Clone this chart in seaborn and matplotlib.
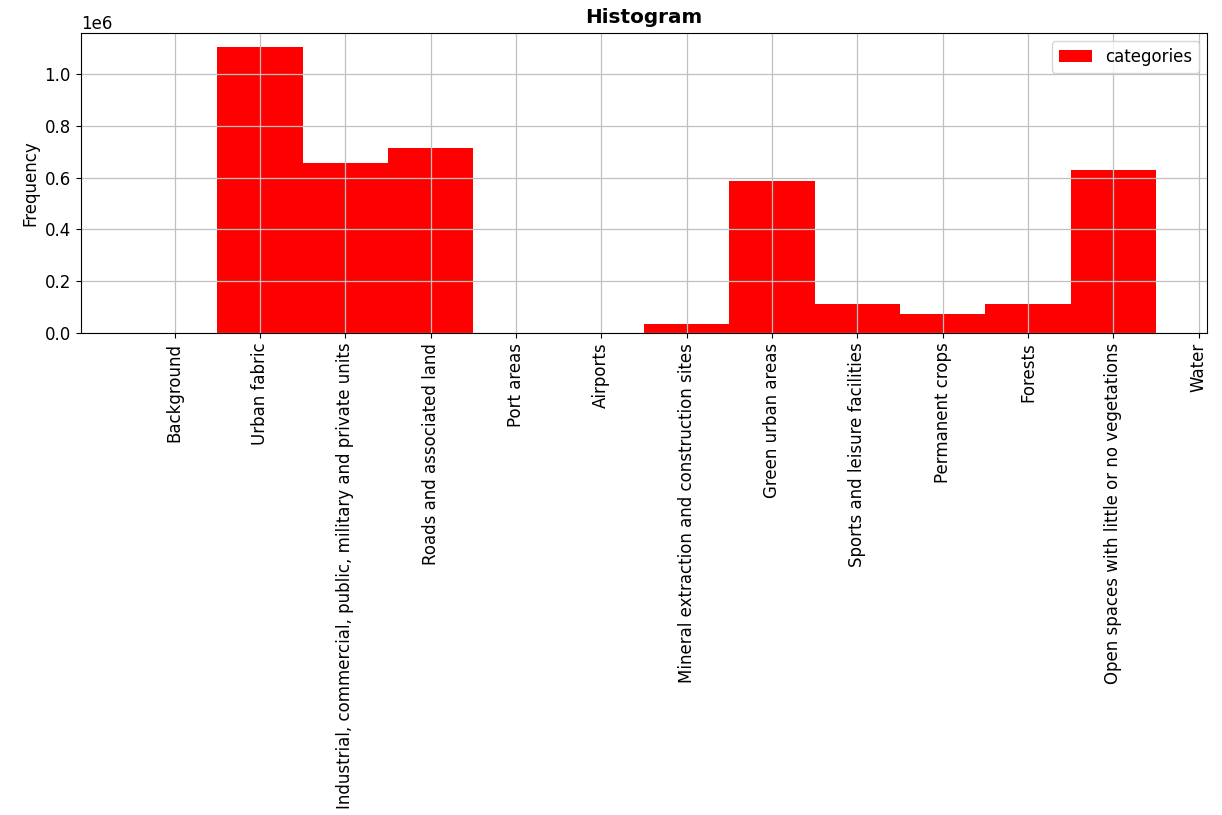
import matplotlib
matplotlib.use('Agg')
import matplotlib.pyplot as plt
import seaborn as sns
import pandas as pd

categories = ['Background', 'Urban fabric',
              'Industrial, commercial, public, military and private units',
              'Roads and associated land', 'Port areas', 'Airports',
              'Mineral extraction and construction sites', 'Green urban areas',
              'Sports and leisure facilities', 'Permanent crops', 'Forests',
              'Open spaces with little or no vegetations', 'Water']
codes = list(range(len(categories)))
counts = [0, 1.103e6, 0.656e6, 0.714e6, 0, 0, 0.035e6, 0.587e6,
          0.111e6, 0.072e6, 0.112e6, 0.629e6, 0]

df = pd.DataFrame({'code': codes, 'count': counts})
df = df[(df['code'] >= 1) & (df['code'] <= 11)]

plt.rcParams['font.size'] = 12
fig = plt.figure(figsize=(12.22, 8.15), dpi=100)
ax = fig.add_axes([0.066, 0.5914, 0.922, 0.3681])

sns.histplot(data=df, x='code', weights='count', binwidth=1, binrange=(0.5, 11.5),
             color='red', alpha=1, linewidth=0, label='categories', ax=ax)

ax.grid(True, color='#c0c0c0', linewidth=0.9)
ax.set_xticks(codes)
ax.set_xticklabels(categories, rotation=90, fontsize=12)
ax.tick_params(axis='y', labelsize=12)
ax.set_xlim(-1.1, 12.1)
ax.set_ylim(0, 1.158e6)
ax.set_xlabel('')
ax.set_ylabel('Frequency', fontsize=12)
ax.set_title('Histogram', fontweight='bold', fontsize=14.4, pad=7)
ax.legend(loc='upper right', fontsize=12)

fig.savefig('out.png', dpi=100)
plt.close()
